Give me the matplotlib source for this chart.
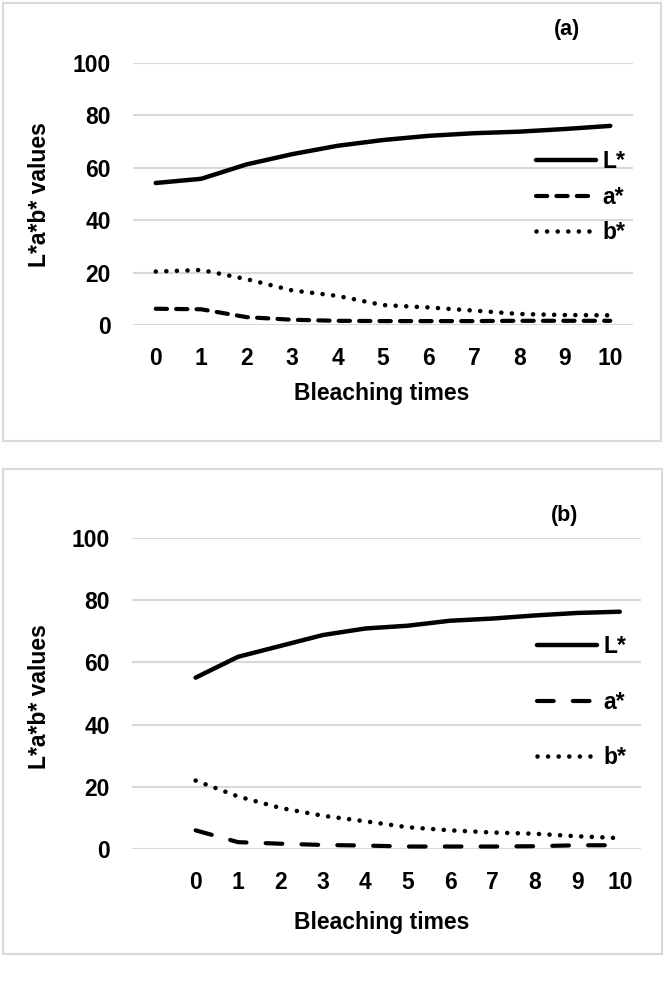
import matplotlib
matplotlib.use("Agg")
import matplotlib.pyplot as plt
from matplotlib.patches import Rectangle

plt.rcParams['font.family'] = ['Liberation Sans', 'DejaVu Sans']
plt.rcParams['font.weight'] = 'bold'

# data
times = list(range(11))
tick_labels = [str(t) for t in times]
yticks = [0, 20, 40, 60, 80, 100]

L_a = [54.2, 55.8, 61.3, 65.2, 68.4, 70.6, 72.2, 73.2, 73.8, 74.8, 76.0]
a_a = [6.2, 6.0, 3.0, 2.0, 1.6, 1.5, 1.5, 1.5, 1.6, 1.6, 1.6]
b_a = [20.4, 21.0, 17.5, 13.2, 11.1, 7.6, 6.7, 5.5, 4.2, 3.8, 3.7]

L_b = [55.1, 61.8, 65.3, 68.8, 70.9, 71.8, 73.4, 74.1, 75.1, 75.9, 76.3]
a_b = [6.0, 2.2, 1.7, 1.3, 1.1, 0.8, 0.8, 0.8, 0.9, 1.2, 1.2]
b_b = [22.0, 16.9, 13.2, 10.7, 8.9, 7.0, 6.0, 5.3, 4.9, 4.1, 3.5]

W, H = 666, 982
fig = plt.figure(figsize=(W / 100, H / 100), dpi=100)
grid_col = '#d9d9d9'
fs = 16.5


def fx(px):
    return px / W


def fy(py):
    return 1 - py / H


def panel(box, axbox, xlim, L, a, b, a_dash, tag, tag_xy, leg_xy, leg_space,
          ylab_y, xlab_y):
    # outer light frame
    x0, y0, x1, y1 = box
    fig.patches.append(Rectangle((fx(x0), fy(y1)), fx(x1 - x0), (y1 - y0) / H,
                                 transform=fig.transFigure, fill=False,
                                 edgecolor=grid_col, linewidth=1.5))
    l, t, r, btm = axbox
    ax = fig.add_axes([fx(l), fy(btm), fx(r - l), (btm - t) / H])
    ax.set_xlim(*xlim)
    ax.set_ylim(0, 100)
    for s in ax.spines.values():
        s.set_visible(False)
    ax.set_yticks(yticks)
    ax.set_xticks(times)
    ax.set_xticklabels(tick_labels, fontweight='bold')
    ax.set_yticklabels([str(v) for v in yticks], fontweight='bold')
    ax.tick_params(length=0, pad=16, labelsize=fs)
    ax.grid(axis='y', color=grid_col, linewidth=1.5)
    ax.set_axisbelow(True)

    ax.plot(times, L, color='black', lw=3.2, solid_capstyle='round',
            label='L*', clip_on=False)
    ax.plot(times, a, color='black', lw=3.0, dashes=a_dash,
            dash_capstyle='round', label='a*', clip_on=False)
    ax.plot(times, b, color='black', lw=3.3, dashes=(0.01, 2.3),
            dash_capstyle='round', label='b*', clip_on=False)

    ax.legend(loc='upper left', bbox_to_anchor=(fx(leg_xy[0]), fy(leg_xy[1])),
              bbox_transform=fig.transFigure, frameon=False,
              prop={'size': fs, 'weight': 'bold'},
              handlelength=2.6, handletextpad=0.3, labelspacing=leg_space,
              borderpad=0, borderaxespad=0)

    fig.text(fx(tag_xy[0]), fy(tag_xy[1]), tag, fontsize=fs - 1,
             fontweight='bold', ha='center', va='center')
    fig.text(fx(40), fy(ylab_y), 'L*a*b* values', rotation=90, fontsize=fs,
             fontweight='bold', ha='center', va='center')
    fig.text(fx(382), fy(xlab_y), 'Bleaching times', fontsize=fs,
             fontweight='bold', ha='center', va='center')


panel((3, 3, 661, 441), (133, 63, 633, 325), (-0.5, 10.5), L_a, a_a, b_a,
      (2.7, 2.2), '(a)', (567, 30), (536, 150), 0.55, 195, 393)
panel((3, 469, 662, 954), (132, 538, 641, 849), (-1.5, 10.5), L_b, a_b, b_b,
      (4.0, 4.6), '(b)', (565, 515), (537, 635), 1.42, 697, 922)

fig.savefig('out.png', dpi=100)
